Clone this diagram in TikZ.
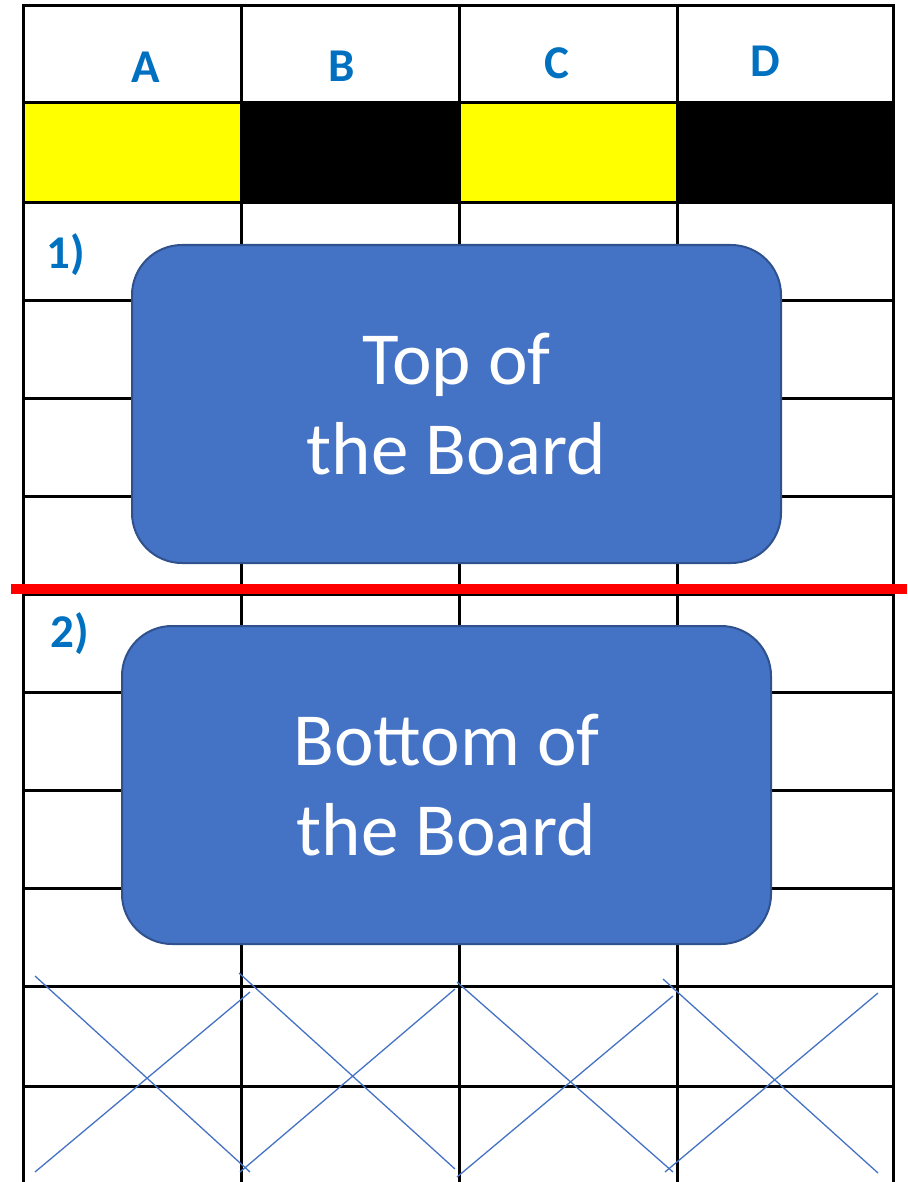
\documentclass[tikz,border=0pt]{standalone}
\usepackage{fontspec}
\setmainfont{Carlito}
\usetikzlibrary{positioning}
\definecolor{HeadBlue}{RGB}{0,112,192}
\definecolor{BoardFill}{RGB}{68,114,196}
\definecolor{BoardRule}{RGB}{47,82,143}
\definecolor{CellYellow}{RGB}{255,255,0}
\definecolor{LineRed}{RGB}{255,0,0}

\begin{document}
\begin{tikzpicture}[
  x=1pt, y=-1pt,
  gridline/.style={draw=black, line width=3pt, line cap=rect},
  cross/.style={draw=BoardFill, line width=1.3pt},
  tag/.style={text=HeadBlue, anchor=base, inner sep=0pt,
              font=\fontsize{47}{50}\selectfont\bfseries},
  board/.style={draw=BoardRule, fill=BoardFill, line width=2pt, rounded corners=50pt,
                minimum width=649pt, minimum height=318pt, text=white, align=center,
                font=\fontsize{75}{90}\selectfont}
]
\useasboundingbox (0,0) rectangle (907,1182);
% colour row
\fill[CellYellow] (23,103) rectangle (241,203);
\fill[black] (241,103) rectangle (459,203);
\fill[CellYellow] (459,103) rectangle (677,203);
\fill[black] (677,103) rectangle (893,203);
% board grid
\draw[gridline] (23,6) -- (23,1182) (241,6) -- (241,1182) (459,6) -- (459,1182)
                (677,6) -- (677,1182) (893,6) -- (893,1182);
\draw[gridline] (23,6) -- (893,6) (23,103) -- (893,103) (23,203) -- (893,203)
                (23,300) -- (893,300) (23,398) -- (893,398) (23,496) -- (893,496)
                (23,594) -- (893,594) (23,692) -- (893,692) (23,790) -- (893,790)
                (23,888) -- (893,888) (23,986) -- (893,986) (23,1086) -- (893,1086);
% crossed-out cells
\draw[cross] (35,976) -- (250,1172) (35,1172) -- (250,992);
\draw[cross] (239,973) -- (455,1169) (240,1172) -- (455,989);
\draw[cross] (457,982) -- (673,1172) (457,1177) -- (673,996);
\draw[cross] (663,979) -- (878,1173) (665,1172) -- (878,993);
% split line
\draw[draw=LineRed, line width=10pt] (11,589) -- (907,589);
% column letters
\node[tag] (colA) at (146,83) {A};
\node[tag] (colB) at (342,82) {B};
\node[tag] (colC) at (557,79) {C};
\node[tag] (colD) at (765,77) {D};
\node[tag] (one) at (66,268) {1)};
\node[tag] (two) at (70,647) {2)};
% halves
\node[board] (topboard) at (456.5,404) {Top of\\the Board};
\node[board] (bottomboard) at (446.5,785) {Bottom of\\the Board};
\end{tikzpicture}
\end{document}
